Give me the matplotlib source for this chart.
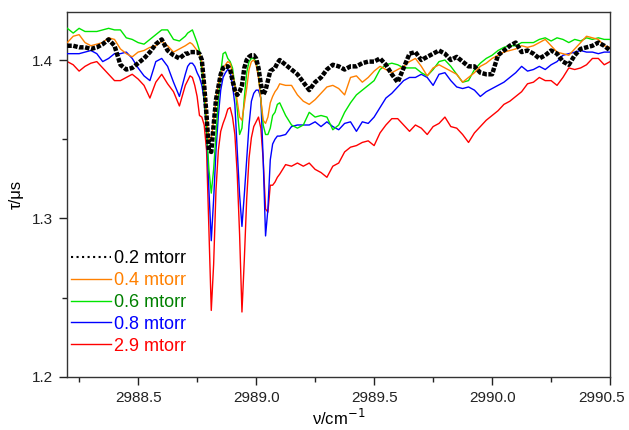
import numpy as np
import matplotlib
matplotlib.use("Agg")
import matplotlib.pyplot as plt
import matplotlib.transforms as mtransforms
from matplotlib.lines import Line2D

plt.rcParams['font.family'] = ['Liberation Sans', 'DejaVu Sans']

# wavenumber grid: coarse, fine around the absorption lines, coarse
wn = np.concatenate([np.linspace(2988.200, 2988.675, 20),
                     np.linspace(2988.700, 2989.090, 40),
                     np.linspace(2989.100, 2990.500, 57)])

tau_02 = [1.409, 1.409, 1.408, 1.408, 1.407, 1.408, 1.410, 1.413, 1.409, 1.397,
          1.394, 1.395, 1.398, 1.401, 1.405, 1.410, 1.413, 1.406, 1.403, 1.401,
          1.404, 1.404, 1.405, 1.405, 1.405, 1.405, 1.404, 1.400, 1.384, 1.365,
          1.343, 1.342, 1.359, 1.375, 1.383, 1.391, 1.395, 1.396, 1.396, 1.394,
          1.387, 1.381, 1.378, 1.380, 1.384, 1.395, 1.400, 1.402, 1.403, 1.403,
          1.401, 1.395, 1.385, 1.378, 1.381, 1.387, 1.393, 1.394, 1.395, 1.398,
          1.400, 1.397, 1.394, 1.391, 1.386, 1.381, 1.386, 1.389, 1.394, 1.397,
          1.396, 1.394, 1.396, 1.396, 1.398, 1.399, 1.399, 1.401, 1.397, 1.391,
          1.386, 1.395, 1.404, 1.405, 1.400, 1.402, 1.404, 1.406, 1.404, 1.400,
          1.402, 1.399, 1.396, 1.396, 1.392, 1.391, 1.391, 1.403, 1.406, 1.409,
          1.411, 1.405, 1.406, 1.404, 1.401, 1.403, 1.406, 1.404, 1.399, 1.397,
          1.403, 1.407, 1.408, 1.409, 1.411, 1.409, 1.406]

tau_04 = [1.411, 1.415, 1.416, 1.411, 1.409, 1.410, 1.411, 1.414, 1.413, 1.407,
          1.404, 1.402, 1.405, 1.406, 1.408, 1.409, 1.412, 1.409, 1.405, 1.407,
          1.409, 1.410, 1.411, 1.410, 1.408, 1.406, 1.404, 1.399, 1.387, 1.365,
          1.350, 1.350, 1.362, 1.375, 1.385, 1.391, 1.395, 1.397, 1.399, 1.398,
          1.392, 1.384, 1.374, 1.364, 1.362, 1.372, 1.382, 1.394, 1.399, 1.400,
          1.397, 1.389, 1.375, 1.362, 1.360, 1.364, 1.373, 1.377, 1.380, 1.382,
          1.385, 1.384, 1.384, 1.378, 1.374, 1.372, 1.375, 1.379, 1.383, 1.384,
          1.382, 1.378, 1.389, 1.390, 1.386, 1.389, 1.393, 1.396, 1.394, 1.392,
          1.394, 1.396, 1.399, 1.401, 1.396, 1.390, 1.395, 1.397, 1.395, 1.393,
          1.391, 1.386, 1.389, 1.392, 1.396, 1.398, 1.401, 1.403, 1.405, 1.406,
          1.407, 1.409, 1.408, 1.409, 1.411, 1.413, 1.409, 1.405, 1.404, 1.403,
          1.407, 1.411, 1.415, 1.414, 1.413, 1.409, 1.408]

tau_06 = [1.420, 1.417, 1.420, 1.418, 1.418, 1.418, 1.419, 1.420, 1.419, 1.419,
          1.414, 1.413, 1.411, 1.410, 1.413, 1.416, 1.419, 1.419, 1.413, 1.412,
          1.415, 1.417, 1.418, 1.419, 1.415, 1.411, 1.406, 1.394, 1.378, 1.356,
          1.331, 1.316, 1.331, 1.353, 1.375, 1.392, 1.404, 1.405, 1.401, 1.399,
          1.395, 1.384, 1.369, 1.353, 1.357, 1.376, 1.392, 1.399, 1.401, 1.401,
          1.399, 1.391, 1.375, 1.359, 1.353, 1.353, 1.357, 1.365, 1.367, 1.372,
          1.373, 1.365, 1.359, 1.357, 1.359, 1.367, 1.364, 1.365, 1.364, 1.356,
          1.359, 1.367, 1.373, 1.378, 1.381, 1.384, 1.387, 1.394, 1.397, 1.398,
          1.397, 1.395, 1.395, 1.395, 1.392, 1.390, 1.394, 1.399, 1.400, 1.396,
          1.391, 1.386, 1.387, 1.394, 1.398, 1.401, 1.403, 1.406, 1.408, 1.409,
          1.409, 1.411, 1.411, 1.411, 1.413, 1.414, 1.412, 1.414, 1.413, 1.411,
          1.413, 1.412, 1.414, 1.413, 1.414, 1.413, 1.413]

tau_08 = [1.404, 1.404, 1.404, 1.405, 1.406, 1.404, 1.399, 1.401, 1.404, 1.404,
          1.405, 1.401, 1.395, 1.390, 1.387, 1.399, 1.401, 1.396, 1.386, 1.377,
          1.391, 1.396, 1.398, 1.398, 1.396, 1.392, 1.389, 1.384, 1.375, 1.356,
          1.318, 1.286, 1.312, 1.343, 1.365, 1.381, 1.389, 1.392, 1.394, 1.393,
          1.384, 1.372, 1.343, 1.315, 1.295, 1.315, 1.337, 1.359, 1.374, 1.379,
          1.381, 1.381, 1.376, 1.337, 1.289, 1.306, 1.337, 1.347, 1.350, 1.352,
          1.352, 1.353, 1.358, 1.359, 1.359, 1.359, 1.361, 1.358, 1.361, 1.358,
          1.356, 1.360, 1.361, 1.355, 1.361, 1.360, 1.364, 1.370, 1.376, 1.379,
          1.383, 1.387, 1.389, 1.389, 1.391, 1.389, 1.384, 1.391, 1.392, 1.387,
          1.383, 1.382, 1.383, 1.381, 1.377, 1.380, 1.382, 1.384, 1.386, 1.389,
          1.392, 1.396, 1.393, 1.394, 1.396, 1.394, 1.397, 1.399, 1.403, 1.404,
          1.405, 1.406, 1.405, 1.405, 1.404, 1.405, 1.405]

tau_29 = [1.399, 1.397, 1.393, 1.396, 1.398, 1.399, 1.395, 1.391, 1.387, 1.387,
          1.389, 1.391, 1.388, 1.384, 1.376, 1.386, 1.391, 1.385, 1.380, 1.371,
          1.384, 1.387, 1.390, 1.389, 1.384, 1.377, 1.365, 1.364, 1.359, 1.343,
          1.293, 1.242, 1.271, 1.318, 1.343, 1.355, 1.360, 1.364, 1.369, 1.370,
          1.364, 1.353, 1.328, 1.290, 1.241, 1.274, 1.312, 1.338, 1.351, 1.358,
          1.361, 1.364, 1.357, 1.337, 1.306, 1.304, 1.321, 1.321, 1.323, 1.326,
          1.328, 1.334, 1.333, 1.335, 1.333, 1.335, 1.331, 1.329, 1.326, 1.333,
          1.335, 1.342, 1.345, 1.346, 1.348, 1.349, 1.346, 1.354, 1.359, 1.363,
          1.363, 1.359, 1.355, 1.359, 1.357, 1.353, 1.358, 1.360, 1.364, 1.358,
          1.357, 1.353, 1.348, 1.354, 1.358, 1.362, 1.365, 1.368, 1.372, 1.374,
          1.377, 1.380, 1.385, 1.386, 1.389, 1.387, 1.387, 1.384, 1.389, 1.395,
          1.394, 1.395, 1.397, 1.401, 1.401, 1.397, 1.399]

labels = ['0.2 mtorr', '0.4 mtorr', '0.6 mtorr', '0.8 mtorr', '2.9 mtorr']
line_colors = ['black', '#FF8000', '#00E600', '#0000FF', '#FF0000']
text_colors = ['black', '#FF8000', '#008000', '#0000FF', '#FF0000']

fig = plt.figure(figsize=(6.29, 4.30), dpi=100)
ax = fig.add_axes([0.107, 0.1233, 0.863, 0.8477])

ax.plot(wn, tau_29, color=line_colors[4], lw=1.0, zorder=2)
ax.plot(wn, tau_08, color=line_colors[3], lw=1.0, zorder=3)
ax.plot(wn, tau_06, color=line_colors[2], lw=1.0, zorder=4)
ax.plot(wn, tau_04, color=line_colors[1], lw=1.0, zorder=5)
ax.plot(wn, tau_02, color=line_colors[0], lw=3.2, ls=(0, (1, 0.35)),
        dash_capstyle='butt', zorder=6)

ax.set_xlim(2988.2, 2990.5)
ax.set_ylim(1.2, 1.43)
ax.set_xticks([2988.5, 2989.0, 2989.5, 2990.0, 2990.5])
ax.set_xticks(np.arange(2988.25, 2990.5, 0.25), minor=True)
ax.set_yticks([1.2, 1.3, 1.4])
ax.set_yticks([1.25, 1.35], minor=True)
ax.xaxis.set_major_formatter(plt.FormatStrFormatter('%.1f'))
ax.yaxis.set_major_formatter(plt.FormatStrFormatter('%.1f'))
ax.tick_params(which='major', direction='out', length=6, width=1,
               labelsize=11, pad=4, colors='#222222')
ax.tick_params(which='minor', direction='out', length=3.5, width=1,
               colors='#222222')
for s in ax.spines.values():
    s.set_color('#333333')
    s.set_linewidth(1.0)

# keep the last x tick label inside the figure
fig.canvas.draw()
last = ax.get_xticklabels()[-1]
last.set_transform(last.get_transform() +
                   mtransforms.ScaledTranslation(-6 / 72, 0, fig.dpi_scale_trans))

ax.set_xlabel('ν/cm$^{-1}$', fontsize=12, labelpad=2)
ax.set_ylabel('τ/μs', fontsize=12, labelpad=6)

handles = [Line2D([], [], color='black', lw=1.5, ls=':')]
handles += [Line2D([], [], color=c, lw=1.0) for c in line_colors[1:]]
leg = ax.legend(handles, labels, loc='upper left', bbox_to_anchor=(0.007, 0.348),
                frameon=False, fontsize=13, handlelength=2.2,
                handletextpad=0.2, labelspacing=0.27, borderpad=0,
                borderaxespad=0)
for t, c in zip(leg.get_texts(), text_colors):
    t.set_color(c)

fig.savefig('out.png', dpi=100)
